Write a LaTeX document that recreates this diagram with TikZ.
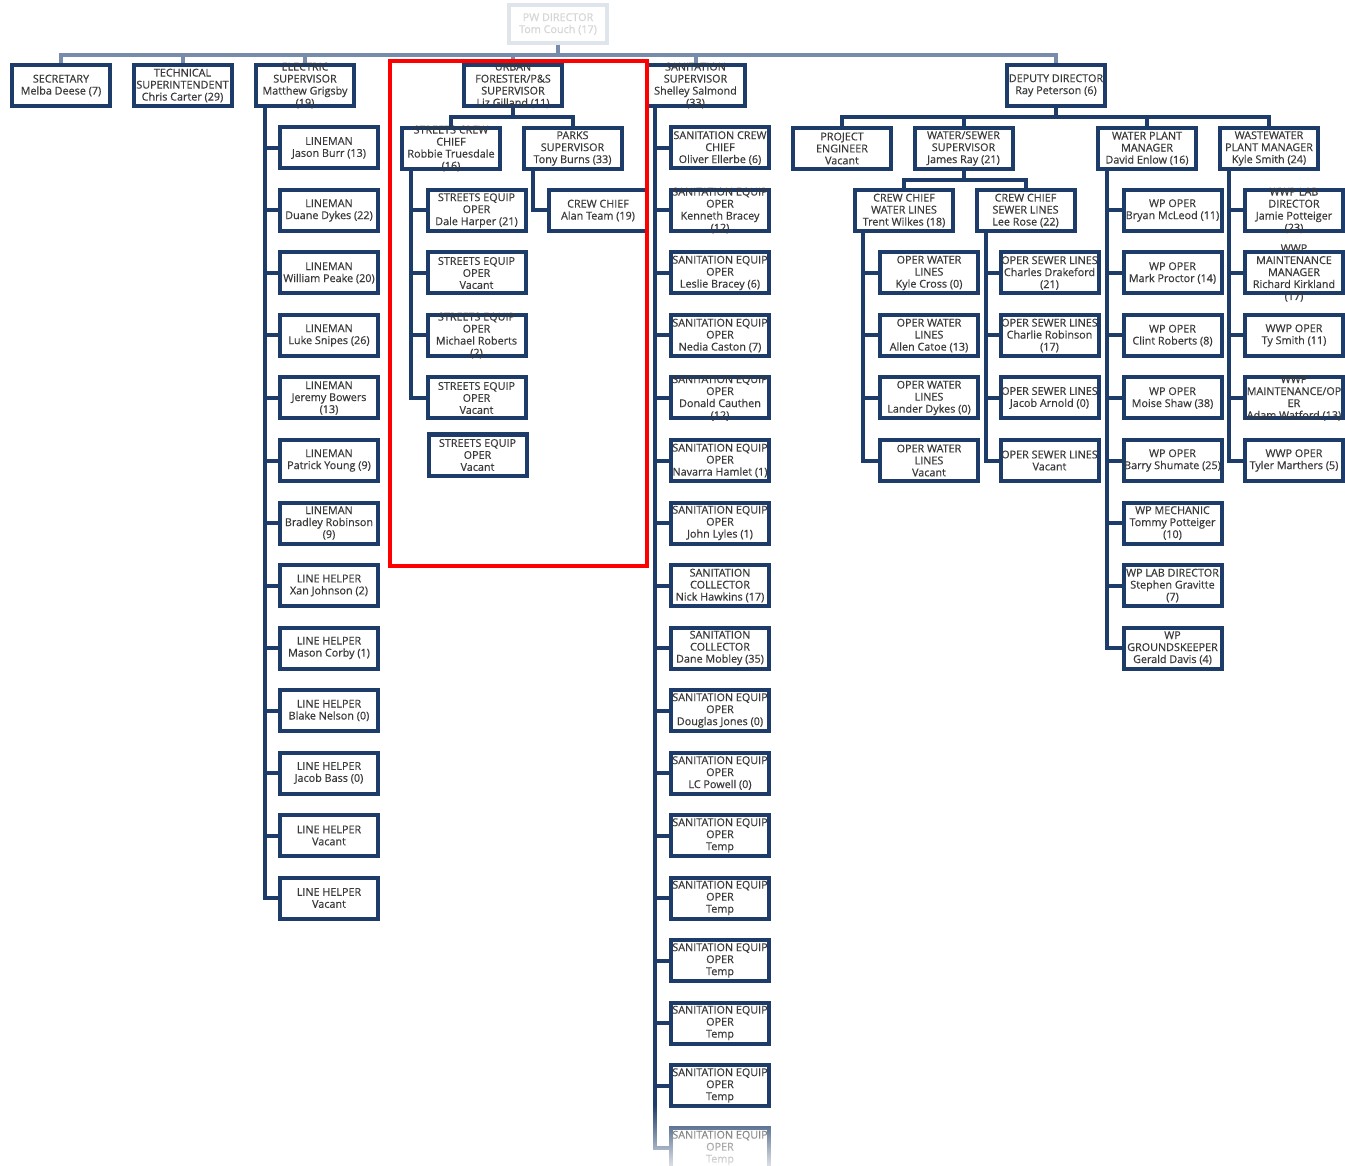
\documentclass[tikz,border=0pt]{standalone}
\usepackage{fontspec}
\setmainfont{Open Sans}
\newfontfamily\boxfont[FakeBold=0.5]{Open Sans}
\usetikzlibrary{fadings}
\definecolor{navy}{RGB}{30,60,105}
\definecolor{busc}{RGB}{118,140,170}
\definecolor{txtc}{RGB}{58,58,58}
\definecolor{fadeb}{RGB}{224,229,236}
\definecolor{fadet}{RGB}{214,214,214}
\tikzset{
 obox/.style={draw=navy, line width=4pt, fill=white, minimum width=98pt, minimum height=41pt, inner sep=0pt},
 otext/.style={align=center, text=txtc, inner sep=0pt, font=\boxfont\fontsize{10.8}{12}\selectfont},
 conn/.style={draw=navy, line width=4pt},
 bus/.style={draw=busc, line width=4pt},
 redframe/.style={draw=red, line width=4pt},
}
\newcommand\ob[3]{\node[obox] (#1) at (#2) {}; \node[otext] (#1-t) at (#1.center) {#3};}
\begin{document}
\begin{tikzpicture}[x=1pt,y=-1pt]
\useasboundingbox (0,0) rectangle (1345,1166);
% top level
\node[obox, draw=fadeb, minimum height=38pt] (pwd) at (558,24) {};
\node[otext, text=fadet] (pwd-t) at (pwd.center) {PW DIRECTOR\\Tom Couch (17)};
\ob{sec}{61,85.5}{SECRETARY\\Melba Deese (7)}
\ob{tech}{182.5,85.5}{TECHNICAL\\SUPERINTENDENT\\Chris Carter (29)}
\ob{elec}{305,85.5}{ELECTRIC\\SUPERVISOR\\Matthew Grigsby\\(19)}
\ob{urb}{513,85.5}{URBAN\\FORESTER/P\&S\\SUPERVISOR\\Liz Gilland (11)}
\ob{san}{695.5,85.5}{SANITATION\\SUPERVISOR\\Shelley Salmond\\(33)}
\ob{dep}{1056,85.5}{DEPUTY DIRECTOR\\Ray Peterson (6)}
\draw[bus] (sec.north) -- ++(0,-8) -| (dep.north);
\foreach \n in {tech,elec,urb,san} \draw[bus] (\n.north) -- ++(0,-8);
\draw[bus] (pwd.south) -- ++(0,10);
% electric
\ob{e1}{329,148}{LINEMAN\\Jason Burr (13)}
\ob{e2}{329,210.5}{LINEMAN\\Duane Dykes (22)}
\ob{e3}{329,273}{LINEMAN\\William Peake (20)}
\ob{e4}{329,335.5}{LINEMAN\\Luke Snipes (26)}
\ob{e5}{329,398}{LINEMAN\\Jeremy Bowers\\(13)}
\ob{e6}{329,460.5}{LINEMAN\\Patrick Young (9)}
\ob{e7}{329,523}{LINEMAN\\Bradley Robinson\\(9)}
\ob{e8}{329,585.5}{LINE HELPER\\Xan Johnson (2)}
\ob{e9}{329,648}{LINE HELPER\\Mason Corby (1)}
\ob{e10}{329,710.5}{LINE HELPER\\Blake Nelson (0)}
\ob{e11}{329,773}{LINE HELPER\\Jacob Bass (0)}
\ob{e12}{329,835.5}{LINE HELPER\\Vacant}
\ob{e13}{329,898}{LINE HELPER\\Vacant}
\foreach \c in {e1,e2,e3,e4,e5,e6,e7,e8,e9,e10,e11,e12,e13}
  \draw[conn] ([xshift=11pt]elec.south west) |- (\c.west);
% urban forester
\ob{scc}{451,148.5}{STREETS CREW\\CHIEF\\Robbie Truesdale\\(16)}
\ob{prk}{572.5,148.5}{PARKS\\SUPERVISOR\\Tony Burns (33)}
\ob{st1}{476.5,210.5}{STREETS EQUIP\\OPER\\Dale Harper (21)}
\ob{st2}{476.5,273}{STREETS EQUIP\\OPER\\Vacant}
\ob{st3}{476.5,335.5}{STREETS EQUIP\\OPER\\Michael Roberts\\(2)}
\ob{st4}{476.5,398}{STREETS EQUIP\\OPER\\Vacant}
\ob{st5}{477.5,455}{STREETS EQUIP\\OPER\\Vacant}
\ob{alan}{598,210.5}{CREW CHIEF\\Alan Team (19)}
\draw[conn] (scc.north) -- ++(0,-9) -| (prk.north);
\draw[conn] (urb.south) -- ++(0,9);
\foreach \c in {st1,st2,st3,st4}
  \draw[conn] ([xshift=11pt]scc.south west) |- (\c.west);
\draw[conn] ([xshift=11pt]prk.south west) |- (alan.west);
% sanitation
\ob{s1}{720,148}{SANITATION CREW\\CHIEF\\Oliver Ellerbe (6)}
\ob{s2}{720,210.5}{SANITATION EQUIP\\OPER\\Kenneth Bracey\\(12)}
\ob{s3}{720,273}{SANITATION EQUIP\\OPER\\Leslie Bracey (6)}
\ob{s4}{720,335.5}{SANITATION EQUIP\\OPER\\Nedia Caston (7)}
\ob{s5}{720,398}{SANITATION EQUIP\\OPER\\Donald Cauthen\\(12)}
\ob{s6}{720,460.5}{SANITATION EQUIP\\OPER\\Navarra Hamlet (1)}
\ob{s7}{720,523}{SANITATION EQUIP\\OPER\\John Lyles (1)}
\ob{s8}{720,585.5}{SANITATION\\COLLECTOR\\Nick Hawkins (17)}
\ob{s9}{720,648}{SANITATION\\COLLECTOR\\Dane Mobley (35)}
\ob{s10}{720,710.5}{SANITATION EQUIP\\OPER\\Douglas Jones (0)}
\ob{s11}{720,773}{SANITATION EQUIP\\OPER\\LC Powell (0)}
\ob{s12}{720,835.5}{SANITATION EQUIP\\OPER\\Temp}
\ob{s13}{720,898}{SANITATION EQUIP\\OPER\\Temp}
\ob{s14}{720,960.5}{SANITATION EQUIP\\OPER\\Temp}
\ob{s15}{720,1023}{SANITATION EQUIP\\OPER\\Temp}
\ob{s16}{720,1085.5}{SANITATION EQUIP\\OPER\\Temp}
\ob{s17}{720,1148}{SANITATION EQUIP\\OPER\\Temp}
\foreach \c in {s1,s2,s3,s4,s5,s6,s7,s8,s9,s10,s11,s12,s13,s14,s15,s16,s17}
  \draw[conn] ([xshift=10pt]san.south west) |- (\c.west);
% deputy
\ob{prj}{842,148.5}{PROJECT\\ENGINEER\\Vacant}
\ob{wsu}{963.5,148.5}{WATER/SEWER\\SUPERVISOR\\James Ray (21)}
\ob{wpm}{1147,148.5}{WATER PLANT\\MANAGER\\David Enlow (16)}
\ob{wwm}{1269,148.5}{WASTEWATER\\PLANT MANAGER\\Kyle Smith (24)}
\draw[conn] (prj.north) -- ++(0,-9) -| (wwm.north);
\foreach \n in {wsu,wpm} \draw[conn] (\n.north) -- ++(0,-9);
\draw[conn] (dep.south) -- ++(0,9);
\ob{cwl}{904,210.5}{CREW CHIEF\\WATER LINES\\Trent Wilkes (18)}
\ob{csl}{1025.5,210.5}{CREW CHIEF\\SEWER LINES\\Lee Rose (22)}
\draw[conn] (cwl.north) -- ++(0,-8) -| (csl.north);
\draw[conn] (wsu.south) -- ++(0,9);
\ob{wl1}{929,273}{OPER WATER\\LINES\\Kyle Cross (0)}
\ob{wl2}{929,335.5}{OPER WATER\\LINES\\Allen Catoe (13)}
\ob{wl3}{929,398}{OPER WATER\\LINES\\Lander Dykes (0)}
\ob{wl4}{929,460.5}{OPER WATER\\LINES\\Vacant}
\foreach \c in {wl1,wl2,wl3,wl4}
  \draw[conn] ([xshift=10pt]cwl.south west) |- (\c.west);
\ob{sl1}{1049.5,273}{OPER SEWER LINES\\Charles Drakeford\\(21)}
\ob{sl2}{1049.5,335.5}{OPER SEWER LINES\\Charlie Robinson\\(17)}
\ob{sl3}{1049.5,398}{OPER SEWER LINES\\Jacob Arnold (0)}
\ob{sl4}{1049.5,460.5}{OPER SEWER LINES\\Vacant}
\foreach \c in {sl1,sl2,sl3,sl4}
  \draw[conn] ([xshift=11pt]csl.south west) |- (\c.west);
\ob{wp1}{1172.5,210.5}{WP OPER\\Bryan McLeod (11)}
\ob{wp2}{1172.5,273}{WP OPER\\Mark Proctor (14)}
\ob{wp3}{1172.5,335.5}{WP OPER\\Clint Roberts (8)}
\ob{wp4}{1172.5,398}{WP OPER\\Moise Shaw (38)}
\ob{wp5}{1172.5,460.5}{WP OPER\\Barry Shumate (25)}
\ob{wp6}{1172.5,523}{WP MECHANIC\\Tommy Potteiger\\(10)}
\ob{wp7}{1172.5,585.5}{WP LAB DIRECTOR\\Stephen Gravitte\\(7)}
\ob{wp8}{1172.5,648}{WP\\GROUNDSKEEPER\\Gerald Davis (4)}
\foreach \c in {wp1,wp2,wp3,wp4,wp5,wp6,wp7,wp8}
  \draw[conn] ([xshift=11pt]wpm.south west) |- (\c.west);
\ob{ww1}{1294,210.5}{WWP LAB\\DIRECTOR\\Jamie Potteiger\\(23)}
\ob{ww2}{1294,273}{WWP\\MAINTENANCE\\MANAGER\\Richard Kirkland\\(17)}
\ob{ww3}{1294,335.5}{WWP OPER\\Ty Smith (11)}
\ob{ww4}{1294,398}{WWP\\MAINTENANCE/OP\\ER\\Adam Watford (13)}
\ob{ww5}{1294,460.5}{WWP OPER\\Tyler Marthers (5)}
\foreach \c in {ww1,ww2,ww3,ww4,ww5}
  \draw[conn] ([xshift=11pt]wwm.south west) |- (\c.west);
% bottom fade
\fill[white, path fading=north, fill opacity=0.85] (640,1105) rectangle (800,1166);
% red highlight frame
\draw[redframe] (390,61) rectangle (647,566);
\end{tikzpicture}
\end{document}
